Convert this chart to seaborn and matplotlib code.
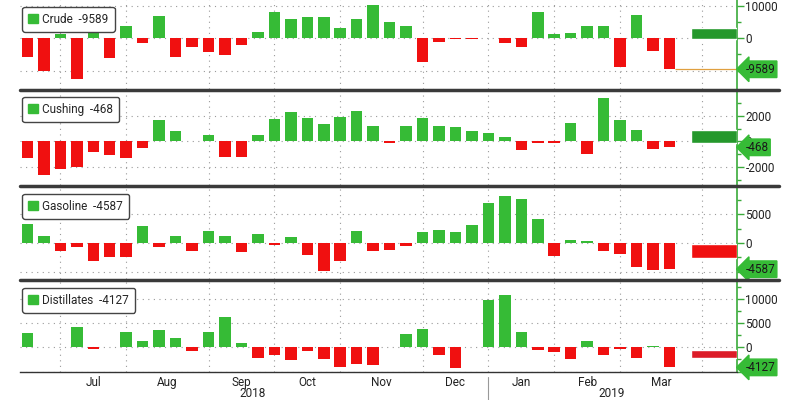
import numpy as np
import pandas as pd
import matplotlib
matplotlib.use("Agg")
import matplotlib.pyplot as plt
import seaborn as sns
from matplotlib.patches import Patch
from matplotlib.lines import Line2D
from matplotlib.transforms import blended_transform_factory

# ---------------- data (weekly changes, kbbl) ----------------
names = ["Crude", "Cushing", "Gasoline", "Distillates"]

crude = [-5670, -10000, 1340, -12680, 2060, -5980, 3800, -1340, 7000, -5670,
         -2580, -4330, -5150, -2060, 1860, 8250, 5980, 6500, 6500, 3300,
         5980, 10400, 4950, 3800, -7200, -1030, -300, -100, -50, -1550,
         -2580, 8250, 1240, 1550, 3900, 3900, -8760, 7200, -3800, -9589]

cushing = [-1280, -2670, -2130, -2030, -830, -1090, -1280, -560, 1650, 800,
           30, 530, -1200, -1200, 510, 1710, 2320, 1790, 1390, 1870,
           2400, 1170, -130, 1170, 1790, 1170, 1120, 800, 670, 370,
           -690, -100, -100, 1440, -960, 3390, 1650, 910, -610, -468]

gasoline = [3350, 1290, -1470, -650, -3230, -2410, -2530, 2940, -650, 1290,
            -1470, 2000, 1290, -1650, 1530, -350, 1000, -2060, -4880, -3230,
            2000, -1350, -1180, -590, 1880, 2180, 1880, 3180, 7060, 8240,
            7760, 4240, -2240, 590, 410, -1350, -1940, -4290, -4700, -4587]

distillates = [2950, 30, 30, 4180, -340, -30, 3080, 1230, 3630, 1920,
               -820, 3150, 6230, 890, -2190, -1640, -2670, -820, -2330, -4110,
               -3430, -3560, -30, 2740, 3840, -1510, -4250, 30, 9660, 10820,
               3080, -480, -960, -2330, 1230, -1510, -270, -2190, 340, -4127]

# wide bar at the right edge of each panel (top, bottom)
wide_top = [3300, 850, -230, -480]
wide_bottom = [-250, -120, -2700, -2190]

months = ["Jul", "Aug", "Sep", "Oct", "Nov", "Dec", "Jan", "Feb", "Mar"]
month_edges = [2, 6, 11, 15, 19, 24, 28, 32, 36, 41]
years = ["2018", "2019"]
year_pos = [13.7, 35.5]

series = [crude, cushing, gasoline, distillates]

# per panel axis setup: ylim, ticks, tick labels, minor ticks
ylims = [(-15700, 11860), (-3420, 4020), (-6300, 9770), (-5080, 13640)]
yticks = [[-10000, 0, 10000], [-2000, 0, 2000], [-5000, 0, 5000], [-5000, 0, 5000, 10000]]
ylabels = [["", "0", "10000"], ["-2000", "0", "2000"], ["", "0", "5000"], ["", "0", "5000", "10000"]]
yminor = [[-5000, 5000], [-3000, -1000, 1000, 3000], [-2500, 2500, 7500], [-2500, 2500, 7500, 12500]]

GREEN = "#36bb36"
DARKGREEN = "#25982c"
RED = "#f01010"
DARKRED = "#dc1c28"
AXGREEN = "#3aaa3a"

sns.set_style("white")
plt.rcParams["font.family"] = ["Roboto", "DejaVu Sans"]

fig = plt.figure(figsize=(8, 4), dpi=100)

# panel pixel extents (top, bottom) in a 800x400 picture
panels_px = [(0, 89), (90, 185), (187, 279), (281, 372)]
left_px, right_px = 20, 737

x = np.arange(len(crude))
axes = []
for i, name in enumerate(names):
    top, bot = panels_px[i]
    ax = fig.add_axes([left_px / 800, 1 - bot / 400, (right_px - left_px) / 800, (bot - top) / 400])
    axes.append(ax)
    vals = series[i]
    df = pd.DataFrame({"week": x, "value": vals, "up": [v >= 0 for v in vals]})

    sns.barplot(data=df, x="week", y="value", hue="up", palette={True: GREEN, False: RED},
                native_scale=True, dodge=False, width=0.7, linewidth=0, saturation=1,
                legend=False, ax=ax, zorder=3)

    # wide bar at the right
    wc = DARKGREEN if wide_top[i] > 0 else (RED if i == 2 else DARKRED)
    ax.bar(41.7, wide_top[i] - wide_bottom[i], bottom=wide_bottom[i], width=2.8, color=wc, zorder=3)

    ax.set_xlim(-0.45, 43.1)
    ax.set_ylim(*ylims[i])
    ax.set_xlabel("")
    ax.set_ylabel("")

    # grid
    for xe in month_edges:
        ax.axvline(xe, color="#9a9a9a", lw=0.8, ls=(0, (1, 4)), zorder=1)
    for yt in yticks[i]:
        ax.axhline(yt, color="#9a9a9a", lw=0.8, ls=(0, (1, 4)), zorder=1)

    # right axis
    ax.yaxis.tick_right()
    ax.set_yticks(yticks[i])
    ax.set_yticklabels(ylabels[i])
    ax.set_yticks(yminor[i], minor=True)
    ax.tick_params(axis="y", which="major", direction="out", length=5, width=1, color=AXGREEN,
                   labelsize=8.5, labelcolor="#222222", pad=1)
    ax.tick_params(axis="y", which="minor", direction="out", length=3, width=1, color=AXGREEN)
    for side in ["top", "left", "bottom"]:
        ax.spines[side].set_visible(False)
    ax.spines["right"].set_color(AXGREEN)
    ax.spines["right"].set_linewidth(1.2)

    # legend box
    ax.legend(handles=[Patch(color=GREEN)], labels=[f"{name}  {vals[-1]}"], loc="upper left",
              bbox_to_anchor=(0.0, 0.95), frameon=True, fancybox=True, edgecolor="#444444",
              framealpha=1, handlelength=0.8, handleheight=0.8, handletextpad=0.4,
              borderpad=0.5, fontsize=8.5, borderaxespad=0.2)

    # last value tag
    tr = blended_transform_factory(ax.transAxes, ax.transData)
    ax.annotate(f"{vals[-1]}", xy=(1, vals[-1]), xycoords=tr, xytext=(6, 0),
                textcoords="offset points", ha="left", va="center", fontsize=8.5, color="#1a1a1a",
                bbox=dict(boxstyle="larrow,pad=0.15", fc=GREEN, ec=GREEN),
                annotation_clip=False, zorder=10)

    if i < 3:
        ax.set_xticks([])

# orange line from the last crude bar to its tag
axes[0].hlines(crude[-1], 39.35, 43.1, color="#e0a040", lw=0.9, zorder=4)

# bottom axis: month edges as ticks, month names between them
axb = axes[-1]
axb.spines["bottom"].set_visible(True)
axb.spines["bottom"].set_color("#333333")
axb.spines["bottom"].set_linewidth(1)
axb.set_xticks(month_edges)
axb.set_xticklabels([])
mids = [(a + b) / 2 for a, b in zip(month_edges[:-1], month_edges[1:])]
axb.set_xticks(mids, minor=True)
axb.set_xticklabels(months, minor=True)
axb.tick_params(axis="x", which="major", direction="out", length=5, color="#777777", width=0.8)
axb.tick_params(axis="x", which="minor", length=0, labelsize=8.5, labelcolor="#222222", pad=3)

trb = blended_transform_factory(axb.transData, axb.transAxes)
for yl, xp in zip(years, year_pos):
    axb.text(xp, -0.24, yl, transform=trb, ha="center", va="center", fontsize=8.5, color="#222222")
axb.plot([28, 28], [-0.05, -0.31], transform=trb, color="#999999", lw=0.8, clip_on=False)

# dark dividers between panels
for _, bot in panels_px[:3]:
    fig.add_artist(Line2D([left_px / 800, 779 / 800], [1 - (bot + 0.5) / 400] * 2,
                          color="#3a3a3a", lw=2.5, transform=fig.transFigure))

fig.savefig("out.png", dpi=100)
